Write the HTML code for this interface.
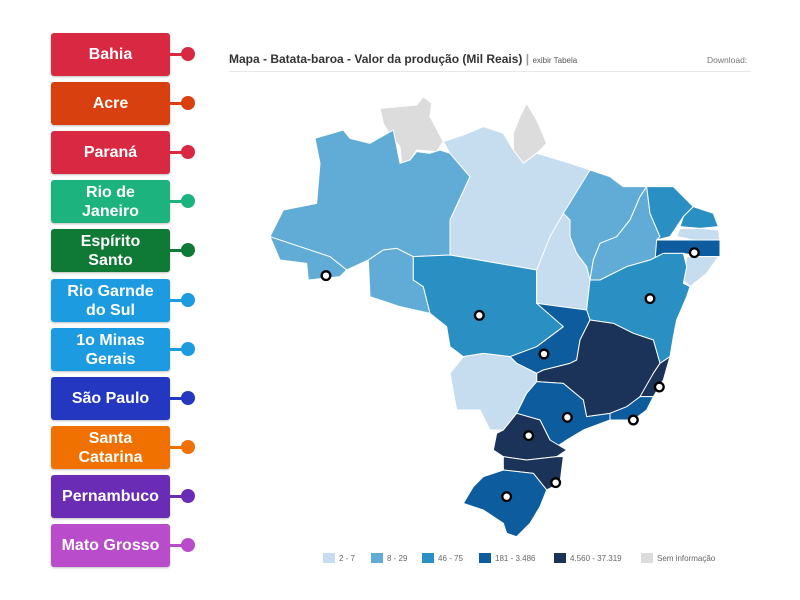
<!DOCTYPE html>
<html><head><meta charset="utf-8"><style>
body{margin:0;width:800px;height:600px;background:#fff;position:relative;overflow:hidden;font-family:"Liberation Sans","DejaVu Sans",sans-serif}
.b{position:absolute;left:51px;width:119px;height:43px;border-radius:3px;color:#fff;font-weight:bold;font-size:16px;line-height:19px;display:flex;align-items:center;justify-content:center;text-align:center;box-shadow:0 1px 2px rgba(0,0,0,.25)}
.c{position:absolute;left:170px;width:14px;height:3px}
.d{position:absolute;left:181px;width:14px;height:14px;border-radius:50%}
.t{position:absolute;left:229px;top:52px;font-size:12px;font-weight:bold;color:#333;white-space:nowrap}
.t span{font-weight:normal;font-size:8px;color:#555}
.dl{position:absolute;left:707px;top:55px;font-size:8.5px;color:#777}
.hr{position:absolute;left:229px;top:71px;width:522px;height:1px;background:#e8e8e8}
.lg{position:absolute;top:553px;font-size:8px;color:#666;display:flex;align-items:center}
.lg i{display:inline-block;width:12px;height:10px;margin-right:4px}
</style></head><body>
<div class="t">Mapa - Batata-baroa - Valor da produção (Mil Reais) <b style="color:#999">|</b> <span>exibir Tabela</span></div>
<div class="dl">Download:</div>
<div class="hr"></div>

<div class="b" style="top:33px;background:#d92841">Bahia</div><div class="c" style="top:53px;background:#d92841"></div><div class="d" style="top:47px;background:#d92841"></div>
<div class="b" style="top:82px;background:#d9400f">Acre</div><div class="c" style="top:102px;background:#d9400f"></div><div class="d" style="top:96px;background:#d9400f"></div>
<div class="b" style="top:131px;background:#d92841">Paraná</div><div class="c" style="top:151px;background:#d92841"></div><div class="d" style="top:145px;background:#d92841"></div>
<div class="b" style="top:180px;background:#1cb37e">Rio de<br>Janeiro</div><div class="c" style="top:200px;background:#1cb37e"></div><div class="d" style="top:194px;background:#1cb37e"></div>
<div class="b" style="top:229px;background:#0e7a36">Espírito<br>Santo</div><div class="c" style="top:249px;background:#0e7a36"></div><div class="d" style="top:243px;background:#0e7a36"></div>
<div class="b" style="top:279px;background:#1d9be0">Rio Garnde<br>do Sul</div><div class="c" style="top:299px;background:#1d9be0"></div><div class="d" style="top:293px;background:#1d9be0"></div>
<div class="b" style="top:328px;background:#1d9be0">1o Minas<br>Gerais</div><div class="c" style="top:348px;background:#1d9be0"></div><div class="d" style="top:342px;background:#1d9be0"></div>
<div class="b" style="top:377px;background:#2337c0">São Paulo</div><div class="c" style="top:397px;background:#2337c0"></div><div class="d" style="top:391px;background:#2337c0"></div>
<div class="b" style="top:426px;background:#f07000">Santa<br>Catarina</div><div class="c" style="top:446px;background:#f07000"></div><div class="d" style="top:440px;background:#f07000"></div>
<div class="b" style="top:475px;background:#6a2cb5">Pernambuco</div><div class="c" style="top:495px;background:#6a2cb5"></div><div class="d" style="top:489px;background:#6a2cb5"></div>
<div class="b" style="top:524px;background:#b84cca">Mato Grosso</div><div class="c" style="top:544px;background:#b84cca"></div><div class="d" style="top:538px;background:#b84cca"></div>

<svg style="position:absolute;left:0;top:0" width="800" height="600">
<g transform="translate(250,80) scale(0.33333)" stroke="#fff" stroke-width="3" stroke-linejoin="round">
<polygon fill="#dcdcdc" points="390,85 500,75 520,50 545,70 540,110 580,185 560,215 500,210 480,240 455,250 450,200 420,165 400,130"/>
<polygon fill="#dcdcdc" points="790,160 810,110 830,70 860,120 890,190 860,220 820,250 790,210"/>
<polygon fill="#61acd6" points="195,175 280,150 300,175 360,190 430,150 450,250 480,240 500,215 540,220 570,210 600,220 660,290 600,420 600,525 490,530 440,505 400,510 355,540 290,570 240,530 150,500 60,470 100,390 200,370 210,250 200,200"/>
<polygon fill="#61acd6" points="60,470 150,500 240,530 290,570 270,590 175,600 170,550 90,540"/>
<polygon fill="#61acd6" points="355,540 400,510 440,505 490,530 490,600 520,620 540,700 450,680 360,650"/>
<polygon fill="#c6dcef" points="580,185 640,165 700,140 760,160 790,210 820,250 860,220 960,250 1020,270 1000,330 945,400 930,430 900,470 880,560 860,570 600,525 600,420 660,290 600,220"/>
<polygon fill="#2a8fc2" points="490,530 600,525 860,570 860,670 910,680 1010,690 1020,720 980,730 940,740 860,800 780,830 700,820 640,830 600,800 590,740 540,700 520,620 490,600"/>
<polygon fill="#c6dcef" points="940,400 960,420 960,470 980,520 1010,560 1020,600 1010,690 910,680 860,670 860,570 880,520 900,470"/>
<polygon fill="#61acd6" points="940,400 1020,270 1080,290 1120,320 1190,320 1170,350 1140,420 1100,470 1050,490 1030,540 1020,600 1010,560 980,520 960,470 960,420"/>
<polygon fill="#61acd6" points="1190,320 1200,400 1230,470 1240,530 1200,540 1130,560 1090,580 1050,600 1020,600 1030,540 1050,490 1100,470 1140,420 1170,350"/>
<polygon fill="#2a8fc2" points="1190,320 1270,320 1330,380 1300,410 1280,440 1260,470 1220,480 1230,470 1200,400"/>
<polygon fill="#2a8fc2" points="1300,410 1330,380 1390,400 1405,440 1350,445 1290,440"/>
<polygon fill="#c6dcef" points="1290,445 1350,445 1405,450 1410,480 1330,480 1280,470"/>
<polygon fill="#0d5c9e" points="1220,480 1330,480 1410,480 1410,530 1350,530 1300,520 1240,520 1215,540"/>
<polygon fill="#c6dcef" points="1310,530 1405,530 1370,580 1320,620 1300,600"/>
<polygon fill="#2a8fc2" points="1020,600 1050,600 1130,560 1200,540 1240,520 1300,520 1310,560 1300,610 1320,620 1310,650 1280,720 1270,770 1260,830 1230,850 1210,780 1150,760 1090,730 1020,720 1010,690"/>
<polygon fill="#0d5c9e" points="860,670 1010,690 1020,720 990,780 980,840 960,850 880,870 860,880 800,850 780,830 860,800 940,740"/>
<polygon fill="#1b3358" points="990,780 1020,720 1090,730 1150,760 1210,780 1230,850 1210,880 1180,950 1130,980 1080,1000 1010,1010 1000,960 940,910 860,905 860,880 880,870 960,850 980,840"/>
<polygon fill="#1b3358" points="1230,850 1260,830 1240,900 1210,950 1170,950 1210,880"/>
<polygon fill="#0d5c9e" points="1170,950 1210,950 1190,990 1150,1020 1080,1020 1080,1000 1130,980"/>
<polygon fill="#c6dcef" points="640,830 700,820 780,830 800,850 860,880 860,905 830,940 800,1000 760,1050 720,1050 690,990 620,990 600,880"/>
<polygon fill="#0d5c9e" points="860,905 940,910 1000,960 1010,1010 1080,1000 1080,1020 1000,1050 950,1080 920,1100 900,1080 870,1020 800,1000 830,940"/>
<polygon fill="#1b3358" points="760,1050 800,1000 870,1020 900,1080 950,1110 920,1130 830,1140 760,1130 730,1110 740,1060"/>
<polygon fill="#1b3358" points="760,1130 830,1140 920,1130 940,1130 930,1210 890,1230 850,1180 760,1170"/>
<polygon fill="#0d5c9e" points="760,1170 850,1180 890,1230 870,1280 840,1330 800,1370 770,1360 760,1330 700,1290 640,1270 670,1220 700,1190"/>
<g fill="#fff" stroke="#000" stroke-width="7">
<circle cx="228" cy="587" r="13"/><circle cx="688" cy="706" r="13"/><circle cx="882" cy="822" r="13"/><circle cx="1200" cy="656" r="13"/><circle cx="1333" cy="518" r="13"/><circle cx="1228" cy="921" r="13"/><circle cx="1150" cy="1020" r="13"/><circle cx="952" cy="1012" r="13"/><circle cx="836" cy="1067" r="13"/><circle cx="917" cy="1208" r="13"/><circle cx="770" cy="1250" r="13"/>
</g></g></svg>

<div class="lg" style="left:323px"><i style="background:#c6dcef"></i>2 - 7</div>
<div class="lg" style="left:371px"><i style="background:#61acd6"></i>8 - 29</div>
<div class="lg" style="left:422px"><i style="background:#2a8fc2"></i>46 - 75</div>
<div class="lg" style="left:479px"><i style="background:#0d5c9e"></i>181 - 3.486</div>
<div class="lg" style="left:554px"><i style="background:#1b3358"></i>4.560 - 37.319</div>
<div class="lg" style="left:641px"><i style="background:#dcdcdc"></i>Sem informação</div>
</body></html>
